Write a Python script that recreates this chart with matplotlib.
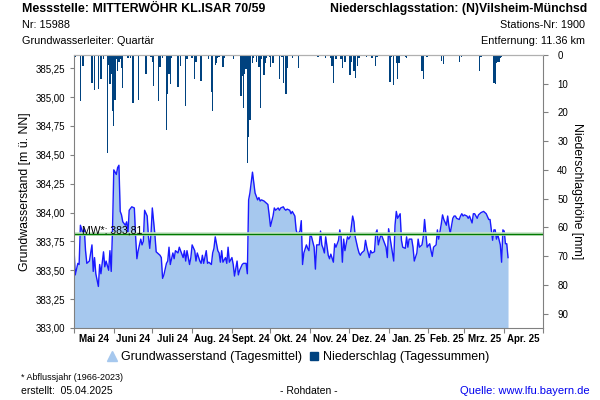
import numpy as np
import pandas as pd
import matplotlib
matplotlib.use('Agg')
import matplotlib.pyplot as plt
from matplotlib.lines import Line2D
from matplotlib.ticker import FixedLocator, FixedFormatter

plt.rcParams['font.family'] = ['Liberation Sans', 'DejaVu Sans']

# Grundwasserstand (Tagesmittel): Tage seit 01.05.2024, Werte in m ü. NN
gw_tage = [0, 1, 3, 4, 5, 7, 8, 9, 10, 12, 14, 15, 16, 17, 19, 20, 21, 23, 24, 25,
           27, 28, 29, 30, 31, 33, 34, 35, 36, 37, 38, 40, 41, 42, 43, 45, 47, 48, 49, 50,
           52, 53, 54, 55, 57, 58, 59, 60, 61, 63, 64, 65, 67, 68, 69, 70, 72, 73, 74, 75,
           77, 78, 79, 81, 82, 83, 85, 86, 87, 88, 90, 91, 92, 94, 95, 96, 98, 99, 100, 101,
           103, 104, 105, 107, 108, 109, 110, 112, 113, 114, 115, 116, 118, 119, 120, 121, 123, 124, 125, 127,
           128, 129, 131, 132, 133, 134, 135, 136, 137, 139, 140, 141, 143, 144, 145, 146, 148, 150, 151, 152,
           153, 155, 156, 157, 159, 160, 161, 163, 164, 165, 166, 168, 169, 170, 172, 173, 174, 176, 177, 178,
           179, 181, 182, 183, 184, 185, 187, 188, 189, 191, 192, 193, 194, 195, 196, 198, 199, 200, 202, 203,
           204, 206, 207, 208, 209, 210, 211, 213, 214, 215, 217, 218, 219, 221, 222, 223, 224, 226, 227, 228,
           230, 231, 232, 234, 235, 236, 237, 239, 240, 241, 243, 244, 245, 246, 247, 249, 250, 251, 252, 254,
           255, 256, 258, 259, 260, 261, 263, 264, 265, 267, 268, 269, 271, 272, 273, 274, 275, 277, 278, 279,
           280, 282, 283, 284, 286, 287, 288, 290, 291, 292, 293, 295, 296, 297, 298, 300, 301, 302, 303, 304,
           306, 307, 308, 310, 311, 312, 314, 315, 316, 317, 319, 320, 321, 323, 324, 325, 326, 327, 328, 329,
           330, 332, 333, 334, 335, 336, 337, 338]
gw_werte = [383.69, 383.46, 383.56, 383.55, 383.89, 383.82, 383.86, 383.67, 383.56, 383.58,
            383.72, 383.49, 383.61, 383.47, 383.36, 383.55, 383.47, 383.66, 383.53, 383.58,
            383.50, 383.67, 383.49, 383.85, 384.37, 384.33, 384.39, 384.41, 384.01, 383.98,
            383.92, 383.89, 383.92, 383.82, 384.02, 384.05, 384.04, 383.79, 383.60, 383.67,
            383.77, 383.72, 383.75, 384.02, 383.97, 383.79, 383.69, 383.82, 384.04, 383.81,
            383.66, 383.65, 383.63, 383.61, 383.43, 383.46, 383.56, 383.58, 383.70, 383.55,
            383.65, 383.60, 383.67, 383.65, 383.70, 383.67, 383.61, 383.67, 383.58, 383.67,
            383.55, 383.61, 383.72, 383.67, 383.58, 383.65, 383.58, 383.56, 383.63, 383.56,
            383.67, 383.56, 383.57, 383.55, 383.65, 383.69, 383.79, 383.67, 383.65, 383.57,
            383.67, 383.57, 383.61, 383.56, 383.70, 383.57, 383.61, 383.55, 383.45, 383.58,
            383.46, 383.50, 383.55, 383.56, 383.56, 383.56, 383.47, 384.11, 384.17, 384.35,
            384.26, 384.17, 384.11, 384.13, 384.10, 384.11, 384.10, 384.08, 384.07, 383.98,
            383.88, 383.97, 384.04, 384.02, 384.04, 384.02, 384.04, 384.05, 384.03, 384.02,
            384.03, 384.02, 383.99, 384.01, 383.97, 383.85, 383.81, 383.84, 383.93, 383.55,
            383.65, 383.72, 383.69, 383.67, 383.82, 383.79, 383.70, 383.51, 383.72, 383.72,
            383.84, 383.72, 383.69, 383.65, 383.79, 383.63, 383.60, 383.64, 383.57, 383.73,
            383.70, 383.76, 383.85, 383.79, 383.57, 383.77, 383.67, 383.79, 383.77, 383.79,
            383.97, 383.92, 383.79, 383.69, 383.65, 383.63, 383.65, 383.67, 383.76, 383.70,
            383.61, 383.67, 383.65, 383.66, 383.82, 383.85, 383.72, 383.81, 383.79, 383.76,
            383.70, 383.61, 383.86, 383.79, 383.72, 383.58, 383.89, 384.01, 383.95, 383.99,
            383.76, 383.70, 383.69, 383.79, 383.70, 383.77, 383.77, 383.70, 383.58, 383.65,
            383.77, 383.70, 383.72, 383.79, 383.94, 383.82, 383.70, 383.73, 383.67, 383.62,
            383.70, 383.72, 383.85, 383.77, 383.90, 383.98, 383.94, 383.89, 383.97, 383.88,
            383.82, 383.95, 383.97, 383.97, 383.95, 383.94, 383.97, 383.99, 383.97, 383.98,
            383.97, 383.95, 383.97, 383.91, 383.99, 383.99, 383.95, 383.98, 383.99, 384.00,
            384.01, 384.00, 383.99, 383.94, 383.94, 383.85, 383.76, 383.85, 383.85, 383.77,
            383.81, 383.72, 383.57, 383.85, 383.84, 383.73, 383.73, 383.61]

# Niederschlag (Tagessummen) in mm
ns_tage = [1, 5, 7, 14, 16, 19, 21, 23, 26, 27, 28, 29, 30, 31, 32, 33, 34, 35, 36, 37,
           38, 41, 42, 44, 46, 47, 50, 51, 56, 60, 61, 62, 64, 66, 67, 69, 72, 73, 74, 75,
           76, 81, 83, 87, 88, 92, 94, 95, 99, 105, 107, 108, 110, 111, 112, 113, 116, 117, 124, 130,
           131, 132, 133, 134, 135, 136, 137, 139, 140, 142, 144, 145, 146, 148, 149, 150, 152, 153, 155, 160,
           162, 163, 165, 166, 170, 175, 190, 196, 200, 201, 202, 204, 208, 209, 211, 215, 216, 218, 219, 221,
           222, 228, 232, 235, 236, 246, 247, 249, 251, 252, 253, 258, 259, 271, 272, 275, 286, 288, 300, 302,
           316, 317, 327, 328, 329, 330, 331, 332, 333]
ns_mm = [0.6, 16.0, 3.8, 9.7, 12.2, 11.8, 8.3, 1.5, 34.0, 3.5, 10.2, 6.5, 19.6, 24.6, 15.5, 1.5, 5.5, 2.3, 1.5, 4.6,
         11.4, 0.5, 1.1, 1.1, 16.6, 0.5, 15.7, 0.5, 6.7, 0.6, 2.3, 10.8, 0.5, 16.0, 4.1, 1.2, 26.0, 13.7, 6.7, 10.2,
         1.1, 11.0, 3.8, 17.8, 1.5, 1.1, 8.3, 2.3, 9.1, 1.5, 12.9, 19.6, 3.5, 2.9, 1.2, 0.6, 4.1, 1.1, 1.5, 14.1,
         7.3, 18.4, 6.7, 5.0, 37.6, 28.5, 22.7, 2.9, 1.1, 2.3, 4.1, 18.4, 1.5, 6.9, 2.9, 1.1, 0.6, 4.1, 2.9, 8.5,
         0.6, 9.7, 13.4, 4.6, 1.1, 4.6, 0.6, 1.2, 1.1, 3.8, 9.7, 1.5, 1.5, 4.6, 2.3, 6.9, 2.3, 5.4, 7.9, 4.0,
         1.1, 0.6, 1.2, 4.0, 0.6, 9.3, 0.6, 10.4, 2.9, 8.5, 2.9, 0.6, 1.1, 5.6, 8.3, 0.6, 2.0, 3.1, 2.3, 0.6,
         5.4, 0.6, 9.7, 10.0, 2.9, 2.6, 2.6, 1.1, 0.6]

mw_wert = 383.81
monat_labels = ['Mai 24', 'Juni 24', 'Juli 24', 'Aug. 24', 'Sept. 24', 'Okt. 24',
                'Nov. 24', 'Dez. 24', 'Jan. 25', 'Feb. 25', 'Mrz. 25', 'Apr. 25']
gw_ticks = [383.00, 383.25, 383.50, 383.75, 384.00, 384.25, 384.50, 384.75, 385.00, 385.25]
ns_ticks = [0, 10, 20, 30, 40, 50, 60, 70, 80, 90]

# Monatsgrenzen als Tage seit Start
start = pd.Timestamp('2024-05-01')
monatsanfang = pd.date_range('2024-05-01', '2025-05-01', freq='MS')
monat_tage = np.array((monatsanfang - start).days)
monat_mitte = (monat_tage[:-1] + monat_tage[1:]) / 2

grau = '#808080'
fig = plt.figure(figsize=(6, 4), dpi=100)
ax = fig.add_axes([0.1233, 0.18, 0.7812, 0.6825])

ax.fill_between(gw_tage, 383.0, gw_werte, color='#a6c8ee', lw=0)
ax.plot(gw_tage, gw_werte, color='#1a1aff', lw=1)
ax.axhline(mw_wert, color='#c6e4c6', lw=2.6)
ax.axhline(mw_wert, color='#007a00', lw=1.0)
ax.text(6, mw_wert + 0.01, 'MW*: 383,81', fontsize=7.5, va='baseline', ha='left')

ax.set_xlim(0, 365)
ax.set_ylim(383.0, 385.365)
ax.yaxis.set_major_locator(FixedLocator(gw_ticks))
ax.yaxis.set_major_formatter(FixedFormatter([f'{v:.2f}'.replace('.', ',') for v in gw_ticks]))
ax.xaxis.set_major_locator(FixedLocator(monat_tage))
ax.xaxis.set_major_formatter(FixedFormatter([''] * len(monat_tage)))
ax.xaxis.set_minor_locator(FixedLocator(monat_mitte))
ax.xaxis.set_minor_formatter(FixedFormatter(monat_labels))
ax.tick_params(axis='x', which='major', length=3.5, color=grau)
ax.tick_params(axis='x', which='minor', length=0, pad=4, labelsize=7)
for lab in ax.xaxis.get_minorticklabels():
    lab.set_fontweight('bold')
ax.tick_params(axis='y', length=3, color=grau, pad=3, labelsize=7)
ax.set_ylabel('Grundwasserstand [m ü. NN]', fontsize=8.8, labelpad=4)
for s in ['left', 'bottom']:
    ax.spines[s].set_color(grau)
ax.spines['top'].set_color('#b0b0b0')
ax.spines['right'].set_visible(False)

ax2 = ax.twinx()
ax2.bar(ns_tage, ns_mm, width=1.0, color='#00427f', lw=0)
ax2.set_ylim(95, 0)
ax2.yaxis.set_major_locator(FixedLocator(ns_ticks))
ax2.tick_params(axis='y', length=3.5, color=grau, pad=7, labelsize=7)
ax2.set_ylabel('Niederschlagshöhe [mm]', fontsize=8.8, rotation=270, labelpad=11)
ax2.spines['right'].set_color(grau)
ax2.spines['top'].set_color('#b0b0b0')
ax2.spines['left'].set_visible(False)
ax2.spines['bottom'].set_visible(False)

# Kopfzeilen
fig.text(0.037, 0.9775, 'Messstelle: MITTERWÖHR KL.ISAR 70/59', fontsize=8.9, fontweight='bold', va='center')
fig.text(0.037, 0.9375, 'Nr: 15988', fontsize=7.8, va='center')
fig.text(0.037, 0.8975, 'Grundwasserleiter: Quartär', fontsize=7.8, va='center')
fig.text(0.979, 0.9775, 'Niederschlagsstation: (N)Vilsheim-Münchsd', fontsize=8.8, fontweight='bold', va='center', ha='right')
fig.text(0.975, 0.9375, 'Stations-Nr: 1900', fontsize=7.8, va='center', ha='right')
fig.text(0.975, 0.8975, 'Entfernung: 11.36 km', fontsize=7.8, va='center', ha='right')

# Legende
handles = [Line2D([], [], ls='', marker='^', color='#a6c8ee', markersize=7),
           Line2D([], [], ls='', marker='s', color='#00427f', markersize=6)]
fig.legend(handles, ['Grundwasserstand (Tagesmittel)', 'Niederschlag (Tagessummen)'],
           loc='center', bbox_to_anchor=(0.497, 0.1075), ncol=2, frameon=False,
           fontsize=9, handlelength=0.8, handletextpad=0.3, columnspacing=0.6)

# Fußzeilen
fig.text(0.035, 0.0575, '* Abflussjahr (1966-2023)', fontsize=6.5, va='center')
fig.text(0.035, 0.0225, 'erstellt:  05.04.2025', fontsize=7.5, va='center')
fig.text(0.515, 0.0225, '- Rohdaten -', fontsize=7.5, va='center', ha='center')
fig.text(0.982, 0.0225, 'Quelle: www.lfu.bayern.de', fontsize=8, va='center', ha='right', color='#0000ee')

fig.savefig('out.png', dpi=100)
